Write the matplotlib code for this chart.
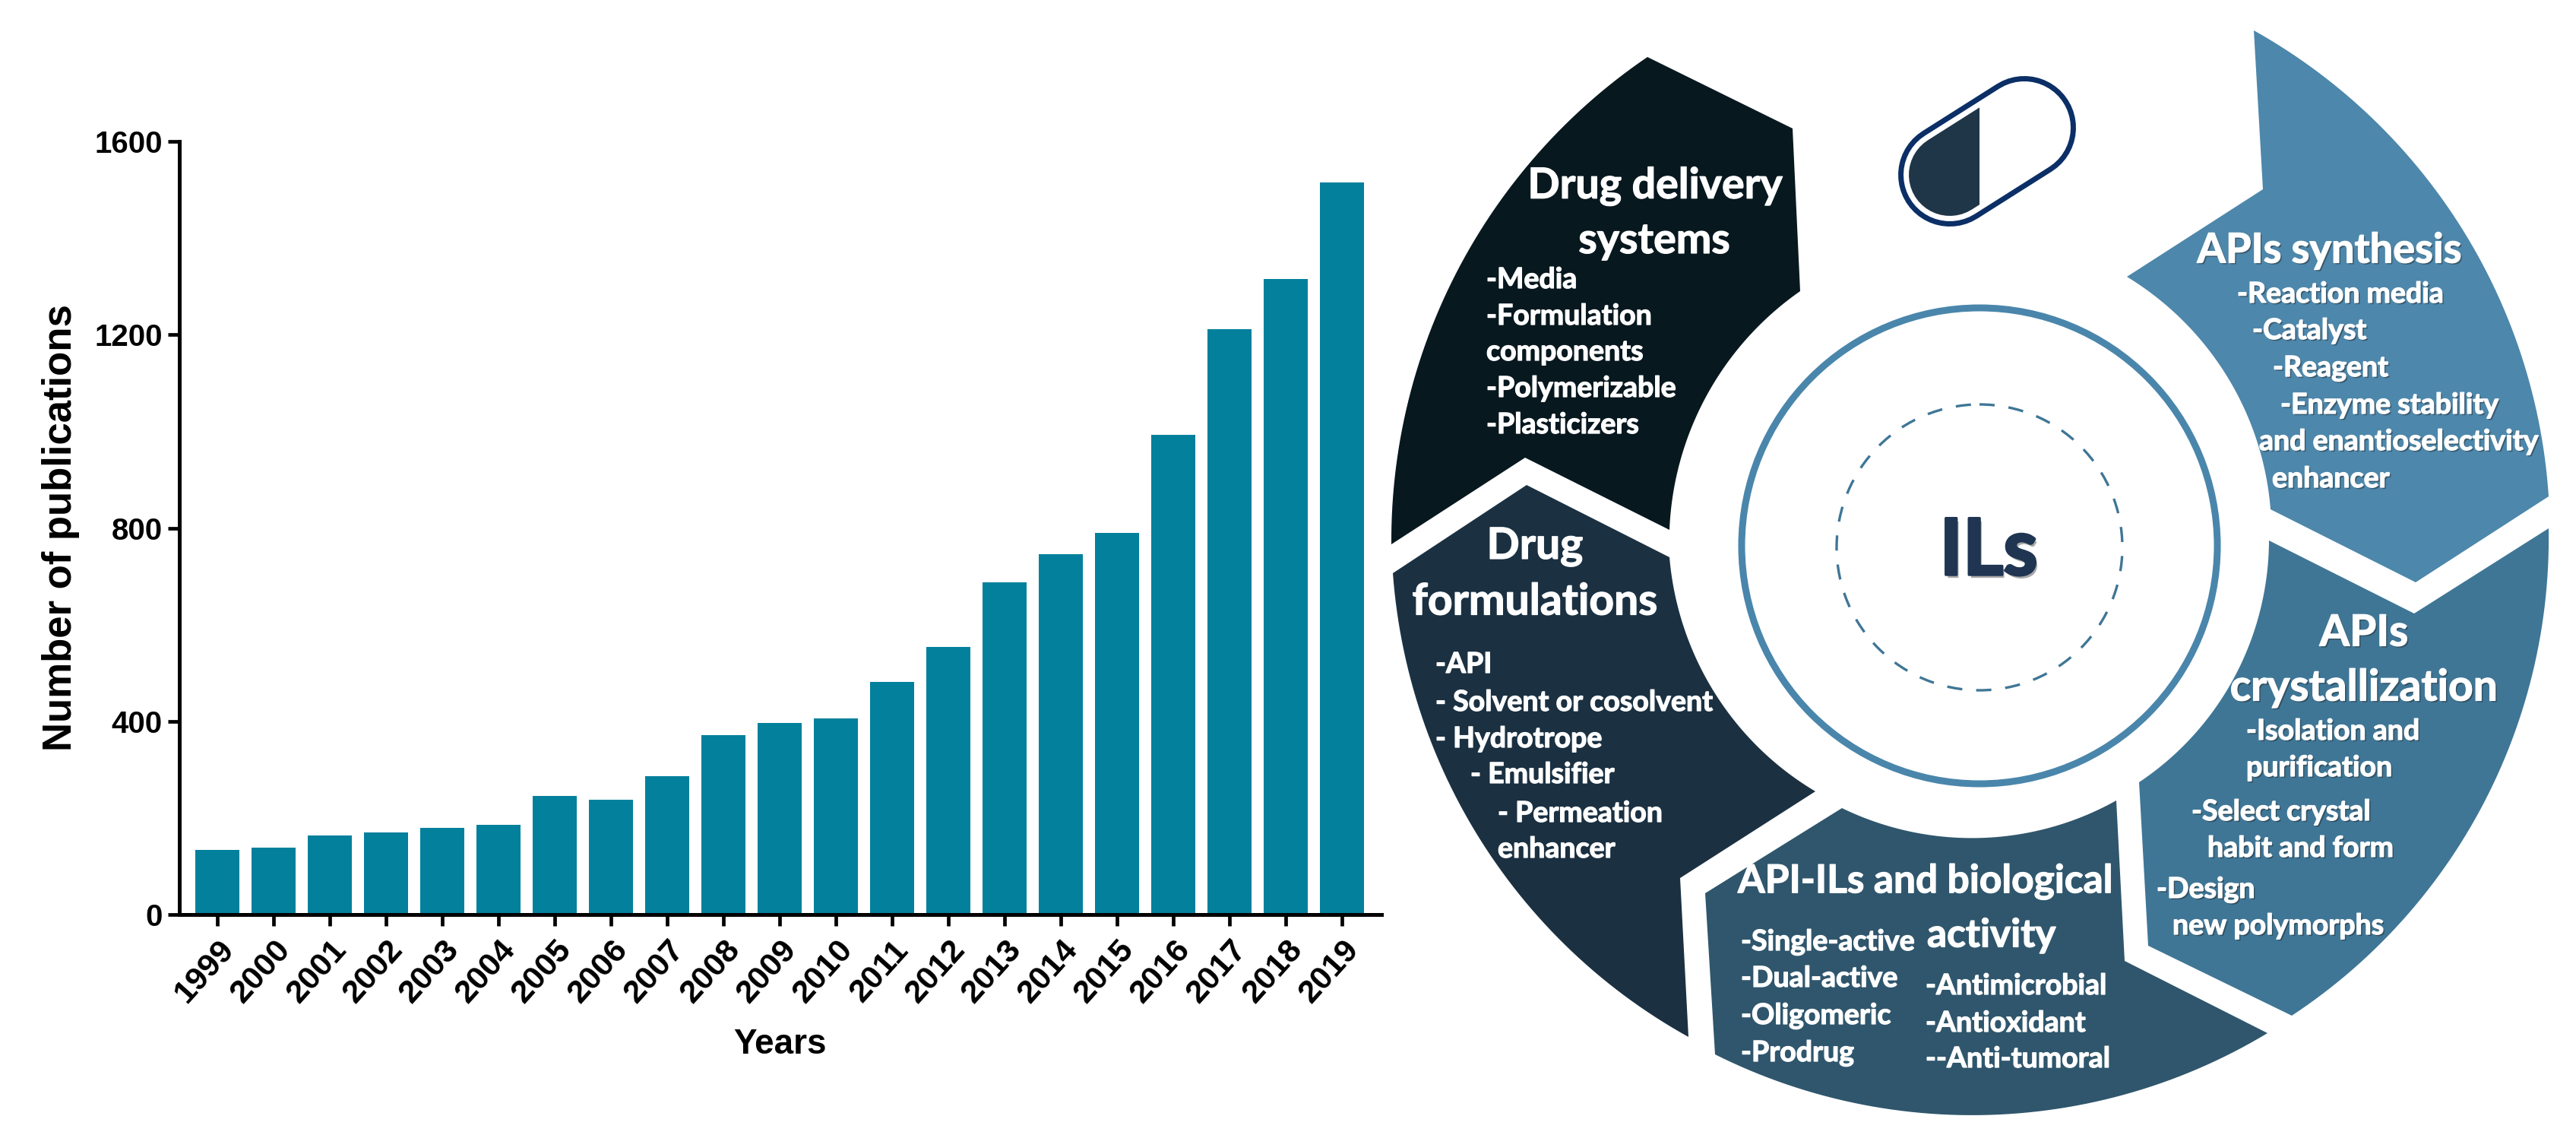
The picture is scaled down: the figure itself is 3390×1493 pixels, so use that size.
import numpy as np
import matplotlib
matplotlib.use("Agg")
import matplotlib.pyplot as plt
import matplotlib.patheffects as pe
from matplotlib.patches import Polygon, Circle

W, H = 3391, 1493
DPI = 100

# =========================
# Bar data
# =========================
years = ["1999", "2000", "2001", "2002", "2003", "2004", "2005", "2006", "2007", "2008", "2009",
         "2010", "2011", "2012", "2013", "2014", "2015", "2016", "2017", "2018", "2019"]
publications = [133, 139, 164, 170, 179, 186, 246, 237, 286, 372, 397,
                406, 481, 553, 688, 745, 789, 992, 1212, 1316, 1515]
y_ticks = [0, 400, 800, 1200, 1600]

# =========================
# Wheel geometry, in image pixels
# =========================
center = (2600, 712)

delivery_head = [(2359, 169), (2369, 383)]
delivery_tail = [(2197, 697), (2007, 602), (1831, 716), (2168, 75)]

formulation_head = [(2009, 638), (2197, 733)]
formulation_tail = [(2389, 1041), (2211, 1155), (2222, 1364), (1833, 754)]

active_head = [(2244, 1175), (2424, 1063)]
active_tail = [(2785, 1053), (2796, 1264), (2984, 1359), (2257, 1387)]

crystal_head = [(2827, 1244), (2815, 1029)]
crystal_tail = [(2986, 711), (3177, 807), (3354, 695), (3016, 1336)]

synthesis_head = [(2978, 249), (2799, 364)]
synthesis_tail = [(2988, 670), (3179, 766), (3354, 653), (2966, 40)]

# (x, y, text, size, ha)
delivery_text = [
    (2178, 245, "Drug delivery", 40, "center"), (2177, 317, "systems", 40, "center"),
    (1956, 368, "-Media", 27, "left"), (1956, 416, "-Formulation", 27, "left"),
    (1956, 463, "components", 27, "left"), (1956, 511, "-Polymerizable", 27, "left"),
    (1956, 559, "-Plasticizers", 27, "left"),
]
formulation_text = [
    (2020, 719, "Drug", 41, "center"), (2020, 792, "formulations", 41, "center"),
    (1889, 874, "-API", 27, "left"), (1889, 924, "- Solvent or cosolvent", 27, "left"),
    (1889, 972, "- Hydrotrope", 27, "left"), (1935, 1019, "- Emulsifier", 27, "left"),
    (1971, 1070, "- Permeation", 27, "left"), (1971, 1117, "enhancer", 27, "left"),
]
active_text = [
    (2287, 1160, "API-ILs and biological", 37, "left"), (2536, 1231, "activity", 37, "left"),
    (2291, 1239, "-Single-active", 27, "left"), (2291, 1287, "-Dual-active", 27, "left"),
    (2291, 1336, "-Oligomeric", 27, "left"), (2291, 1385, "-Prodrug", 27, "left"),
    (2534, 1297, "-Antimicrobial", 27, "left"), (2534, 1346, "-Antioxidant", 27, "left"),
    (2534, 1393, "--Anti-tumoral", 27, "left"),
]
crystal_text = [
    (3111, 833, "APIs", 41, "center"), (3111, 905, "crystallization", 41, "center"),
    (2956, 962, "-Isolation and", 27, "left"), (2956, 1010, "purification", 27, "left"),
    (2884, 1068, "-Select crystal", 27, "left"), (2905, 1116, "habit and form", 27, "left"),
    (2838, 1170, "-Design", 27, "left"), (2859, 1218, "new polymorphs", 27, "left"),
]
synthesis_text = [
    (3065, 330, "APIs synthesis", 39, "center"),
    (2944, 387, "-Reaction media", 27, "left"), (2964, 435, "-Catalyst", 27, "left"),
    (2991, 484, "-Reagent", 27, "left"), (3001, 533, "-Enzyme stability", 27, "left"),
    (2973, 581, "and enantioselectivity", 27, "left"), (2990, 630, "enhancer", 27, "left"),
]


def arc(p0, p1, n=60):
    # arc round the wheel centre, radius eased between both ends
    d0 = np.array(p0) - center
    d1 = np.array(p1) - center
    a0, a1 = np.arctan2(d0[1], d0[0]), np.arctan2(d1[1], d1[0])
    da = (a1 - a0 + np.pi) % (2 * np.pi) - np.pi
    t = np.linspace(0, 1, n)
    r = np.hypot(*d0) + t * (np.hypot(*d1) - np.hypot(*d0))
    return np.column_stack([center[0] + r * np.cos(a0 + t * da), center[1] + r * np.sin(a0 + t * da)])


def segment(ax, head, tail, color):
    # head runs up to the inner arc, tail[2] -> tail[3] is the outer arc
    inner = arc(head[-1], tail[0])
    outer = arc(tail[2], tail[3])
    pts = np.vstack([head, inner, tail[1:3], outer])
    ax.add_patch(Polygon(pts, closed=True, facecolor=color, edgecolor="none"))


fig = plt.figure(figsize=(W / DPI, H / DPI), dpi=DPI, facecolor="white")

# =========================
# Bar chart
# =========================
plt.rcParams["font.family"] = ["Liberation Sans", "DejaVu Sans"]
ax = fig.add_axes([236 / W, 1 - 1203 / H, (1818 - 236) / W, (1203 - 186) / H])
x = np.arange(len(years))
ax.bar(x, publications, width=0.78, color="#03809C", zorder=2)
ax.set_xlim(-0.676, 20.7)
ax.set_ylim(0, 1600)
ax.set_yticks(y_ticks)
ax.set_yticklabels(y_ticks, fontsize=29, fontweight="bold")
ax.set_xticks(x)
ax.set_xticklabels(years, fontsize=31, fontweight="bold", rotation=48, ha="right", rotation_mode="anchor")
ax.tick_params(axis="both", length=11, width=3.4, pad=5)
ax.tick_params(axis="x", pad=8)
ax.set_xlabel("Years", fontsize=33, fontweight="bold", labelpad=18)
ax.set_ylabel("Number of publications", fontsize=38, fontweight="bold", labelpad=14)
for side in ["top", "right"]:
    ax.spines[side].set_visible(False)
for side in ["left", "bottom"]:
    ax.spines[side].set_linewidth(3.6)

# =========================
# Wheel, drawn over the whole image in pixel coordinates
# =========================
wheel = fig.add_axes([0, 0, 1, 1], facecolor="none")
wheel.set_xlim(0, W)
wheel.set_ylim(H, 0)
wheel.axis("off")

segment(wheel, delivery_head, delivery_tail, "#08181F")
segment(wheel, formulation_head, formulation_tail, "#1B3142")
segment(wheel, active_head, active_tail, "#2F566C")
segment(wheel, crystal_head, crystal_tail, "#3F7696")
segment(wheel, synthesis_head, synthesis_tail, "#4D87AB")

wheel.add_patch(Circle((2605, 718), 313, facecolor="white", edgecolor="#4A86AB", linewidth=6.5))
wheel.add_patch(Circle((2605, 720), 188, facecolor="none", edgecolor="#3F7696", linewidth=2.4,
                       linestyle=(0, (6, 5.5))))
wheel.text(2617, 726, "ILs", fontsize=74, fontweight="bold", family=["Lato", "DejaVu Sans"],
           color="#1F3552", ha="center", va="center",
           path_effects=[pe.SimplePatchShadow(offset=(2, -3), shadow_rgbFace="#555555", alpha=0.5),
                         pe.Stroke(linewidth=2.5, foreground="#1F3552"), pe.Normal()])

# pill
pill_x, pill_y = [2566, 2664], [230, 168]
wheel.plot(pill_x, pill_y, color="#0B2F66", lw=136 * 0.72, solid_capstyle="round")
wheel.plot(pill_x, pill_y, color="white", lw=122 * 0.72, solid_capstyle="round")
half = wheel.plot(pill_x, pill_y, color="#1F3648", lw=108 * 0.72, solid_capstyle="round")[0]
half.set_clip_path(plt.Rectangle((2480, 60), 125, 260, transform=wheel.transData))

bold_effect = [pe.Stroke(linewidth=0.9, foreground="white"), pe.Normal()]
shadow_effect = [pe.SimplePatchShadow(offset=(1.5, -1.5), shadow_rgbFace="#222222", alpha=0.45)] + bold_effect

for block, effect in [(delivery_text, bold_effect), (formulation_text, bold_effect), (active_text, bold_effect),
                      (crystal_text, shadow_effect), (synthesis_text, shadow_effect)]:
    for tx, ty, label, size, align in block:
        wheel.text(tx, ty, label, fontsize=size, fontweight="bold", family=["Lato", "DejaVu Sans"],
                   color="white", ha=align, va="center", path_effects=effect)

fig.savefig("out.png", dpi=DPI, facecolor="white")
